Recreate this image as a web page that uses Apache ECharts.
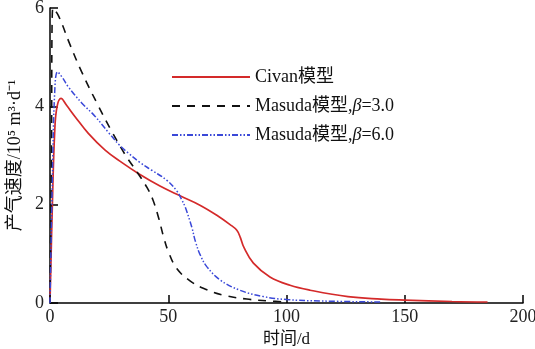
<!DOCTYPE html>
<html><head><meta charset="utf-8">
<script src="https://cdn.jsdelivr.net/npm/echarts@6/dist/echarts.min.js"></script>
<style>html,body{margin:0;padding:0;background:#fff}#c{width:535px;height:349px}</style>
</head><body><div id="c"></div>
<script>
const seriesNames = ['Civan模型', 'Masuda模型,β=3.0', 'Masuda模型,β=6.0'];
const civanX = [0, 1, 2, 3, 4.65, 7, 10.6, 16.2, 23.3, 30.3, 37.5, 46.5, 55, 63.4, 71, 76, 79, 80.5, 82, 86, 93, 101.5, 110, 126, 140, 150, 170, 185];
const civanY = [0, 2.0, 3.5, 4.0, 4.16, 4.02, 3.79, 3.45, 3.11, 2.86, 2.63, 2.38, 2.18, 1.99, 1.77, 1.6, 1.48, 1.33, 1.13, 0.81, 0.53, 0.36, 0.26, 0.13, 0.08, 0.06, 0.03, 0.02];
const masuda3X = [0, 0.6, 1.2, 3.5, 8.5, 13.4, 20, 26, 32, 37, 41, 43.5, 46, 48, 50, 53.6, 59.2, 64.8, 73.3, 83.2, 93, 100];
const masuda3Y = [0, 3.0, 6.0, 5.85, 5.25, 4.7, 4.05, 3.5, 3.0, 2.65, 2.35, 2.1, 1.72, 1.35, 1.05, 0.7, 0.45, 0.3, 0.16, 0.08, 0.04, 0.02];
const masuda6X = [0, 1, 2, 3.2, 5, 7.7, 13.4, 19, 24.7, 29.6, 33.1, 38, 43, 49.3, 53.6, 55.7, 57.1, 59.9, 61.5, 63.5, 66.3, 71.9, 80.3, 90.2, 100, 115, 140];
const masuda6Y = [0, 2.5, 4.3, 4.7, 4.6, 4.4, 4.07, 3.8, 3.47, 3.2, 3.05, 2.86, 2.7, 2.5, 2.28, 2.1, 1.96, 1.55, 1.25, 0.98, 0.74, 0.47, 0.26, 0.13, 0.07, 0.04, 0.02];
const xTicks = [0, 50, 100, 150, 200];
const yTicks = [0, 2, 4, 6];

function pairs(xs, ys) { return xs.map((x, i) => [x, ys[i]]); }

const font = '"Liberation Serif", "Noto Sans CJK SC", serif';
const chart = echarts.init(document.getElementById('c'), null, {renderer: 'canvas'});
chart.setOption({
  animation: false,
  backgroundColor: '#fff',
  grid: {left: 50, right: 12, top: 8, bottom: 46, outerBoundsMode: 'none', containLabel: false},
  legend: {
    orient: 'vertical', left: 166, top: 63, itemGap: 11, itemWidth: 78, itemHeight: 14,
    data: seriesNames,
    itemStyle: {opacity: 0},
    formatter: function (n) { return n.replace('β', '{i|β}'); },
    textStyle: {fontFamily: font, fontSize: 18, color: '#111', rich: {i: {fontStyle: 'italic', fontFamily: font, fontSize: 18, color: '#111'}}}
  },
  xAxis: {
    type: 'value', min: xTicks[0], max: xTicks[xTicks.length - 1], interval: 50,
    name: '时间/d', nameLocation: 'middle', nameGap: 26,
    nameTextStyle: {fontFamily: font, fontSize: 17, color: '#111'},
    axisLine: {lineStyle: {color: '#000', width: 1.5}},
    axisTick: {inside: true, length: 8, lineStyle: {color: '#000', width: 1.5}},
    axisLabel: {fontFamily: font, fontSize: 18, color: '#222', margin: 5},
    splitLine: {show: false}
  },
  yAxis: {
    type: 'value', min: yTicks[0], max: yTicks[yTicks.length - 1], interval: 2,
    name: '产气速度/10⁵ m³·d⁻¹', nameLocation: 'middle', nameGap: 26, nameRotate: 90,
    nameTextStyle: {fontFamily: font, fontSize: 18, color: '#111'},
    axisLine: {show: true, lineStyle: {color: '#000', width: 1.5}},
    axisTick: {show: true, inside: true, length: 8, lineStyle: {color: '#000', width: 1.5}},
    axisLabel: {fontFamily: font, fontSize: 18, color: '#222', margin: 6},
    splitLine: {show: false}
  },
  series: [
    {name: seriesNames[0], type: 'line', showSymbol: false, symbol: 'none', smooth: 0.4,
     data: pairs(civanX, civanY), lineStyle: {color: '#d42a2a', width: 1.7}, itemStyle: {color: '#d42a2a'}},
    {name: seriesNames[1], type: 'line', showSymbol: false, symbol: 'none', smooth: 0.4,
     data: pairs(masuda3X, masuda3Y), lineStyle: {color: '#111', width: 1.6, type: [8, 7]}, itemStyle: {color: '#111'}},
    {name: seriesNames[2], type: 'line', showSymbol: false, symbol: 'none', smooth: 0.4,
     data: pairs(masuda6X, masuda6Y), lineStyle: {color: '#3a48d8', width: 1.5, type: [6, 2, 1.5, 2, 1.5, 2]}, itemStyle: {color: '#3a48d8'}}
  ]
});
</script></body></html>
